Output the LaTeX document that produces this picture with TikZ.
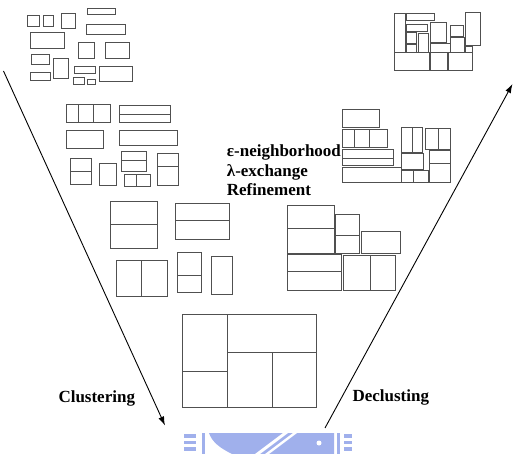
\documentclass[tikz,border=0pt]{standalone}
\usepackage{fontspec}
\setmainfont{Liberation Serif}
\usetikzlibrary{arrows.meta}
\definecolor{boxline}{RGB}{80,80,80}
\definecolor{seal}{RGB}{160,176,236}
\tikzset{
  blk/.style={draw=boxline, line width=0.8pt},
  flow/.style={draw=black, line width=0.9pt, -{Latex[length=9pt,width=6pt]}},
  lbl/.style={font=\fontsize{17}{19}\selectfont\bfseries, inner sep=0pt, anchor=base west},
}
\begin{document}
\begin{tikzpicture}[x=1pt,y=-1pt]
\useasboundingbox (0,0) rectangle (519,454);

% ---- scattered small blocks (top left) ----
\draw[blk] (27.3,15.3) rectangle (39.3,26);
\draw[blk] (43.3,15.3) rectangle (53.3,26);
\draw[blk] (61.7,13.3) rectangle (75.3,28);
\draw[blk] (87.3,8) rectangle (115.3,14.3);
\draw[blk] (86.3,24.3) rectangle (125,34.7);
\draw[blk] (30,32) rectangle (64.3,48.3);
\draw[blk] (78.3,42.3) rectangle (94,58.7);
\draw[blk] (105.3,42) rectangle (129.7,58.7);
\draw[blk] (31,54.7) rectangle (49.7,64);
\draw[blk] (53.3,58.3) rectangle (68.7,78.7);
\draw[blk] (30.3,72) rectangle (50,80.3);
\draw[blk] (74,66.3) rectangle (95.3,73.3);
\draw[blk] (99.3,66.3) rectangle (132.7,81);
\draw[blk] (73,77.3) rectangle (84.3,84.3);
\draw[blk] (87.7,79) rectangle (95,84);

% ---- first clustering level ----
\draw[blk] (66.3,104.3) rectangle (110.7,122.3);
\draw[blk] (78.3,104.3) -- (78.3,122.3) (93,104.3) -- (93,122.3);
\draw[blk] (119.3,105) rectangle (170,122);
\draw[blk] (119.3,114.7) -- (170,114.7);
\draw[blk] (66.3,130) rectangle (103.3,148.7);
\draw[blk] (119.3,130) rectangle (177.7,145.3);
\draw[blk] (70.3,158.3) rectangle (91.3,184.3);
\draw[blk] (70.3,171) -- (91.3,171);
\draw[blk] (99.3,163.3) rectangle (116,185);
\draw[blk] (121.3,151.7) rectangle (146.7,171.7);
\draw[blk] (121.3,160.7) -- (146.7,160.7);
\draw[blk] (124,174.7) rectangle (150.3,186);
\draw[blk] (136,174.7) -- (136,186);
\draw[blk] (157,153.3) rectangle (178.3,185.7);
\draw[blk] (157,166.7) -- (178.3,166.7);

% ---- second clustering level ----
\draw[blk] (110.3,201.7) rectangle (157.3,248.3);
\draw[blk] (110.3,224.3) -- (157.3,224.3);
\draw[blk] (175.7,203.3) rectangle (229.7,239);
\draw[blk] (175.7,220) -- (229.7,220);
\draw[blk] (116.3,260.3) rectangle (167.7,296);
\draw[blk] (141.7,260.3) -- (141.7,296);
\draw[blk] (177.3,252.7) rectangle (201.7,292.3);
\draw[blk] (177.3,275) -- (201.7,275);
\draw[blk] (211,256) rectangle (232.3,294.3);

% ---- fully clustered block ----
\draw[blk] (182.3,314.3) rectangle (316,407);
\draw[blk] (227.3,314.3) -- (227.3,407);
\draw[blk] (182.3,371.3) -- (227.3,371.3);
\draw[blk] (227.3,352.3) -- (316,352.3);
\draw[blk] (272.3,352.3) -- (272.3,407);

% ---- first declustering level ----
\draw[blk] (287.3,205.7) rectangle (334,253.3);
\draw[blk] (287.3,228.3) -- (334,228.3);
\draw[blk] (335,214) rectangle (359.7,253.3);
\draw[blk] (335,235.7) -- (359.7,235.7);
\draw[blk] (361.7,231.3) rectangle (400,253.3);
\draw[blk] (287.3,254.7) rectangle (341.7,290.3);
\draw[blk] (287.3,271.3) -- (341.7,271.3);
\draw[blk] (343.3,255) rectangle (395,290.3);
\draw[blk] (370.3,255) -- (370.3,290.3);

% ---- second declustering level ----
\draw[blk] (342.3,109.3) rectangle (379.3,127.3);
\draw[blk] (342.3,129.3) rectangle (387.3,147.3);
\draw[blk] (354.3,129.3) -- (354.3,147.3) (369.3,129.3) -- (369.3,147.3);
\draw[blk] (342.3,149.3) rectangle (393.3,165.7);
\draw[blk] (342.3,158.3) -- (393.3,158.3);
\draw[blk] (342.3,167.3) rectangle (401,182.3);
\draw[blk] (401.3,127.3) rectangle (422.3,152.3);
\draw[blk] (412.3,127.3) -- (412.3,152.3);
\draw[blk] (401.3,153) rectangle (423.7,169.3);
\draw[blk] (401.3,170.3) rectangle (428,182.3);
\draw[blk] (413.3,170.3) -- (413.3,182.3);
\draw[blk] (425,128.7) rectangle (450.3,149);
\draw[blk] (438,128.7) -- (438,149);
\draw[blk] (429.3,150.3) rectangle (450.3,182.3);
\draw[blk] (429.3,163.3) -- (450.3,163.3);

% ---- final placement (top right) ----
\draw[blk] (394.3,13.3) rectangle (405,52.3);
\draw[blk] (406.3,13.7) rectangle (434,20.3);
\draw[blk] (406,24.3) rectangle (427.3,31);
\draw[blk] (406.3,32.3) rectangle (416,43.7);
\draw[blk] (406.3,44.7) rectangle (416.7,52.3);
\draw[blk] (418.7,33.3) rectangle (428,52.3);
\draw[blk] (430.7,22) rectangle (446,42.7);
\draw[blk] (430.7,43.7) rectangle (450,52.3);
\draw[blk] (450.7,25.7) rectangle (463.7,36.3);
\draw[blk] (450.7,37.7) rectangle (464.3,52.3);
\draw[blk] (465,12.7) rectangle (480.3,45.7);
\draw[blk] (465,46.7) rectangle (472.3,52.3);
\draw[blk] (394.3,52.3) rectangle (429.3,70);
\draw[blk] (430,52.3) rectangle (447.3,70);
\draw[blk] (448,52.3) rectangle (472.3,70);

% ---- flow arrows ----
\coordinate (clusterStart) at (3.5,71);
\coordinate (clusterEnd) at (165,425.5);
\coordinate (declStart) at (325,428);
\coordinate (declEnd) at (512.5,84);
\draw[flow] (clusterStart) -- (clusterEnd);
\draw[flow] (declStart) -- (declEnd);

% ---- labels ----
\node[lbl] (nbh) at (226.7,157) {ε-neighborhood};
\node[lbl] (lex) at (226.7,176.5) {λ-exchange};
\node[lbl] (ref) at (226.7,195.7) {Refinement};
\node[lbl] (clu) at (58.3,402.3) {Clustering};
\node[lbl] (dec) at (352.3,401.5) {Declusting};

% ---- seal along the bottom edge ----
\begin{scope}[seal]
  \fill (184,434) rectangle (196,437.5);
  \fill (184,440.5) rectangle (196,444);
  \fill (184,447) rectangle (196,450.5);
  \fill (202,433) rectangle (204.5,454);
  \fill (209,433) -- (334,433) -- (334,454) -- (232,454)
        .. controls (220,448) and (212,442) .. (209,433) -- cycle;
  \fill (337,433) rectangle (339.5,454);
  \fill (344,434) rectangle (352,437.5);
  \fill (344,440.5) rectangle (352,444);
  \fill (344,447) rectangle (352,450.5);
\end{scope}
\fill[white] (255,454) -- (283,433) -- (288,433) -- (260,454) -- cycle;
\fill[white] (265,454) -- (293,433) -- (297,433) -- (269,454) -- cycle;
\fill[white] (319,443) circle (2.5);
\end{tikzpicture}
\end{document}
